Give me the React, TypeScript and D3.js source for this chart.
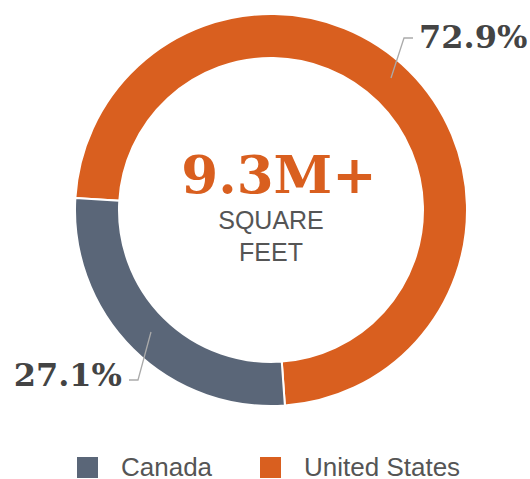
import React, { useEffect, useRef } from 'react';
import * as d3 from 'd3';

const categories = ['United States', 'Canada'];
const values = [72.9, 27.1];
const valueLabels = ['72.9%', '27.1%'];
const legendOrder = ['Canada', 'United States'];
const centerValue = '9.3M+';
const centerLines = ['SQUARE', 'FEET'];

const App = () => {
    const svgRef = useRef<SVGSVGElement>(null);

    useEffect(() => {
        const svg = d3.select(svgRef.current);
        svg.selectAll('*').remove();

        const cx = 271;
        const cy = 210;
        const outerR = 196;
        const innerR = 152;

        const color = d3.scaleOrdinal<string, string>()
            .domain(['Canada', 'United States'])
            .range(['#5A6678', '#D95F1F']);

        const start = (-86.5 * Math.PI) / 180;
        const pie = d3.pie<number>()
            .sort(null)
            .startAngle(start)
            .endAngle(start + 2 * Math.PI);
        const arcs = pie(values);

        const arc = d3.arc<d3.PieArcDatum<number>>()
            .innerRadius(innerR)
            .outerRadius(outerR);

        const g = svg.append('g').attr('transform', `translate(${cx},${cy})`);

        g.selectAll('path')
            .data(arcs)
            .join('path')
            .attr('d', arc)
            .attr('fill', (d, i) => color(categories[i]))
            .attr('stroke', '#fff')
            .attr('stroke-width', 2);

        // leader lines + labels
        const leaders = [
            { pts: [[391, 78], [404, 38], [413, 38]], tx: 419, ty: 48, anchor: 'start' },
            { pts: [[151, 332], [138, 380], [129, 380]], tx: 122, ty: 386, anchor: 'end' },
        ];
        leaders.forEach((l, i) => {
            svg.append('polyline')
                .attr('points', l.pts.map(p => p.join(',')).join(' '))
                .attr('fill', 'none')
                .attr('stroke', '#AAAAAA')
                .attr('stroke-width', 1.3);
            svg.append('text')
                .attr('x', l.tx)
                .attr('y', l.ty)
                .attr('text-anchor', l.anchor)
                .attr('font-family', 'DejaVu Serif')
                .attr('font-weight', 'bold')
                .attr('font-size', 32)
                .attr('fill', '#444')
                .text(valueLabels[i]);
        });

        // center text
        svg.append('text')
            .attr('x', 279)
            .attr('y', 193)
            .attr('text-anchor', 'middle')
            .attr('font-family', 'DejaVu Serif')
            .attr('font-weight', 'bold')
            .attr('font-size', 53)
            .attr('fill', '#D95F1F')
            .text(centerValue);

        centerLines.forEach((t, i) => {
            svg.append('text')
                .attr('x', 271)
                .attr('y', 229 + i * 32)
                .attr('text-anchor', 'middle')
                .attr('font-family', 'Liberation Sans, Arial, sans-serif')
                .attr('font-size', 25)
                .attr('fill', '#555')
                .text(t);
        });

        // legend
        const legendX = d3.scaleOrdinal<string, number>()
            .domain(legendOrder)
            .range([77, 260]);
        const lg = svg.append('g')
            .selectAll('g')
            .data(legendOrder)
            .join('g')
            .attr('transform', d => `translate(${legendX(d)},457)`);
        lg.append('rect')
            .attr('width', 21)
            .attr('height', 21)
            .attr('fill', d => color(d));
        lg.append('text')
            .attr('x', 44)
            .attr('y', 19)
            .attr('font-family', 'Liberation Sans, Arial, sans-serif')
            .attr('font-size', 26)
            .attr('fill', '#555')
            .text(d => d);
    }, []);

    return (
        <svg
            ref={svgRef}
            width={530}
            height={479}
            style={{ position: 'absolute', left: 0, top: 0, background: '#fff' }}
        />
    );
};

export default App;
